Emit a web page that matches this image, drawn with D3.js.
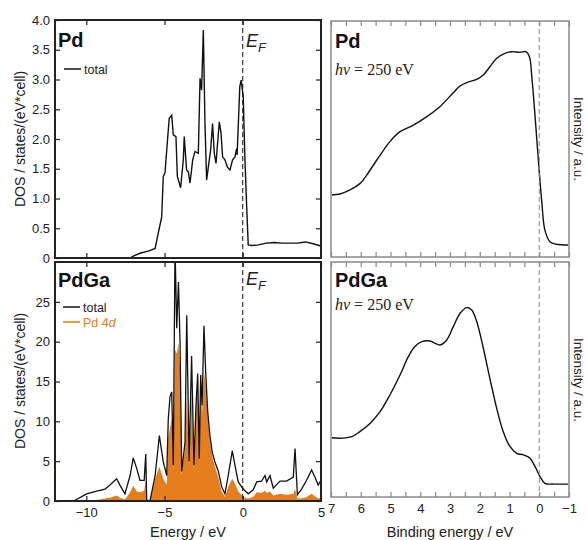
<!DOCTYPE html>
<html>
<head>
<meta charset="utf-8">
<script src="https://cdn.jsdelivr.net/npm/d3@7"></script>
<style>
  body { margin: 0; background: #fff; }
  svg { display: block; font-family: "Liberation Sans", Arial, sans-serif; }
</style>
</head>
<body>
<div id="chart"></div>
<script>
// ---- Pd DOS (top left) ----
const PD_E   = [-7.2, -7.0, -6.57, -6.0, -5.6, -5.4, -5.18, -5.08, -4.97, -4.86, -4.7, -4.54, -4.44, -4.27, -4.18, -3.97, -3.8, -3.74, -3.59, -3.48, -3.37, -3.2, -3.05, -2.84, -2.73, -2.63, -2.52, -2.42, -2.31, -2.14, -2.05, -1.93, -1.82, -1.71, -1.5, -1.39, -1.29, -1.14, -0.99, -0.82, -0.65, -0.5, -0.39, -0.36, -0.19, -0.1, 0.03, 0.14, 0.25, 0.35, 0.6, 1.0, 1.5, 2.0, 2.5, 3.0, 3.5, 4.0, 4.5, 5.0];
const PD_DOS = [0, 0.03, 0.08, 0.12, 0.16, 0.42, 0.69, 1.37, 1.43, 1.81, 2.35, 2.40, 2.07, 2.04, 1.37, 1.18, 1.65, 2.04, 1.48, 1.45, 1.26, 1.65, 1.79, 1.76, 3.02, 2.82, 3.83, 2.32, 1.31, 1.65, 1.82, 2.26, 1.76, 1.59, 2.29, 2.1, 1.7, 1.65, 1.53, 1.48, 1.65, 1.7, 1.84, 1.73, 2.88, 2.99, 2.71, 1.65, 0.86, 0.22, 0.21, 0.22, 0.25, 0.26, 0.25, 0.25, 0.25, 0.27, 0.24, 0.2];

// ---- PdGa DOS (bottom left) ----
const PDGA_E     = [-10.72, -9.98, -9.4, -8.8, -8.49, -8.06, -7.85, -7.53, -7.2, -7.0, -6.78, -6.57, -6.3, -6.2, -6.14, -5.93, -5.6, -5.33, -5.08, -4.86, -4.76, -4.65, -4.54, -4.44, -4.33, -4.22, -4.11, -4.01, -3.9, -3.69, -3.58, -3.43, -3.27, -3.12, -2.99, -2.88, -2.78, -2.69, -2.6, -2.48, -2.37, -2.24, -2.1, -1.95, -1.78, -1.57, -1.35, -1.14, -0.93, -0.67, -0.5, -0.29, 0.03, 0.35, 0.67, 0.89, 1.2, 1.42, 1.53, 1.74, 1.95, 2.38, 2.8, 3.23, 3.34, 3.49, 3.76, 4.08, 4.4, 4.61, 4.82, 5.0];
const PDGA_TOTAL = [0.1, 0.9, 1.2, 1.5, 2.0, 2.8, 2.0, 0.9, 3.2, 5.4, 4.1, 2.6, 2.6, 5.9, 0.1, 0, 3.2, 8.2, 4.9, 3.2, 10.3, 13.1, 13.7, 4.5, 32, 21.7, 27.5, 20, 3.7, 7.4, 23.3, 5.0, 18.2, 4.5, 12, 16, 5.3, 15.8, 12, 22, 16.2, 11.2, 8.2, 6.1, 4.9, 3.8, 1.8, 0.9, 3.2, 6.3, 4.5, 2.4, 1.5, 0.9, 1.4, 2.4, 2.5, 3.2, 2.4, 3.2, 1.6, 2.5, 2.5, 3.0, 6.6, 0.8, 1.5, 2.6, 3.9, 3.0, 2.0, 2.6];
const PDGA_PD4D  = [0, 0.05, 0.1, 0.3, 0.4, 0.7, 0.4, 0.2, 1.1, 1.9, 1.2, 1.1, 1.3, 2.6, 0, 0, 2.8, 4.3, 2.8, 2.0, 8, 9.1, 10.3, 3.8, 19, 18.5, 19.8, 16.5, 3.3, 6.5, 13, 4.5, 13.5, 4, 11, 14.5, 4.8, 14.5, 11, 16.2, 14.5, 10.5, 7.5, 5.6, 4.3, 3.0, 1.2, 0.5, 1.8, 2.8, 2.2, 1.2, 0.5, 0.3, 0.5, 1.1, 1.0, 1.3, 1.0, 1.2, 0.7, 0.9, 0.8, 0.9, 1.5, 0.3, 0.3, 0.5, 0.9, 0.6, 0.3, 0.4];

// ---- valence band spectra, hv = 250 eV (right) ----
const PD_BE  = [6.98, 6.7, 6.36, 6.02, 5.8, 5.46, 5.02, 4.68, 4.23, 3.78, 3.34, 2.89, 2.66, 2.44, 2.1, 1.88, 1.66, 1.43, 1.21, 0.93, 0.65, 0.45, 0.33, 0.25, 0.14, 0.03, -0.08, -0.19, -0.36, -0.58, -0.97];
const PD_INT = [0.263, 0.267, 0.284, 0.312, 0.347, 0.411, 0.489, 0.531, 0.559, 0.595, 0.637, 0.696, 0.725, 0.739, 0.753, 0.771, 0.806, 0.842, 0.86, 0.87, 0.867, 0.87, 0.849, 0.764, 0.595, 0.411, 0.242, 0.114, 0.065, 0.054, 0.051];
const PDGA_BE  = [6.98, 6.7, 6.3, 6.03, 5.69, 5.35, 5.02, 4.68, 4.4, 4.18, 3.95, 3.67, 3.5, 3.34, 3.11, 2.89, 2.66, 2.44, 2.27, 2.1, 1.88, 1.66, 1.43, 1.21, 0.98, 0.76, 0.53, 0.31, 0.14, -0.03, -0.19, -0.47, -0.97];
const PDGA_INT = [0.252, 0.25, 0.257, 0.278, 0.313, 0.363, 0.434, 0.519, 0.597, 0.64, 0.661, 0.664, 0.654, 0.647, 0.668, 0.725, 0.782, 0.806, 0.796, 0.746, 0.633, 0.505, 0.377, 0.278, 0.214, 0.186, 0.179, 0.165, 0.129, 0.086, 0.058, 0.055, 0.055];

const DOS_XTICKS = [-10, -5, 0, 5];
const PD_YTICKS = [0, 0.5, 1, 1.5, 2, 2.5, 3, 3.5, 4];
const PDGA_YTICKS = [0, 5, 10, 15, 20, 25];
const BE_MINOR = d3.range(-1, 7.01, 0.5);

const ORANGE = "#e67e1e";

const svg = d3.select("#chart").append("svg")
    .attr("width", 587)
    .attr("height", 540);

const dosX = d3.scaleLinear().domain([-12, 5]).range([55, 321]);
const yPd = d3.scaleLinear().domain([0, 4]).range([258, 20]);
const yPdGa = d3.scaleLinear().domain([0, 30]).range([501, 262]);
const beX = d3.scaleLinear().domain([7, -1]).range([331, 569]);
const yTopR = d3.scaleLinear().domain([0, 1]).range([257, 21]);
const yBotR = d3.scaleLinear().domain([0, 1]).range([497, 262]);

const zip = (a, b) => a.map((v, i) => [v, b[i]]);

const clip = (id, x, y) => {
  svg.append("clipPath").attr("id", id)
    .append("rect")
      .attr("x", x.range()[0]).attr("y", y.range()[1])
      .attr("width", x.range()[1] - x.range()[0])
      .attr("height", y.range()[0] - y.range()[1]);
};

const style_axis = (g, color) => {
  g.select(".domain").remove();
  g.selectAll("line").attr("stroke", color).attr("stroke-width", 1.2);
  g.selectAll("text")
      .attr("font-family", "Liberation Sans, Arial, sans-serif")
      .attr("font-size", 13)
      .attr("fill", "#222");
};

// ticks on all four sides, pointing in
const draw_ticks = (x, y, xt, yt, color, xfmt, yfmt) => {
  const [x0, x1] = x.range();
  const [y0, y1] = y.range();
  svg.append("g").attr("transform", "translate(0," + y0 + ")")
      .call(d3.axisBottom(x).tickValues(xt).tickSize(-5).tickPadding(7).tickFormat(xfmt))
      .call(g => style_axis(g, color));
  svg.append("g").attr("transform", "translate(0," + y1 + ")")
      .call(d3.axisTop(x).tickValues(xt).tickSize(-5).tickFormat(""))
      .call(g => style_axis(g, color));
  if (yt) {
    svg.append("g").attr("transform", "translate(" + x0 + ",0)")
        .call(d3.axisLeft(y).tickValues(yt).tickSize(-5).tickPadding(5).tickFormat(yfmt))
        .call(g => style_axis(g, color));
    svg.append("g").attr("transform", "translate(" + x1 + ",0)")
        .call(d3.axisRight(y).tickValues(yt).tickSize(-5).tickFormat(""))
        .call(g => style_axis(g, color));
  }
};

const frame = (x, y, color, w) => {
  svg.append("rect")
      .attr("x", x.range()[0]).attr("y", y.range()[1])
      .attr("width", x.range()[1] - x.range()[0])
      .attr("height", y.range()[0] - y.range()[1])
      .attr("fill", "none").attr("stroke", color).attr("stroke-width", w);
};

const vdash = (x, y, xv, color) => {
  svg.append("line")
      .attr("x1", x(xv)).attr("x2", x(xv))
      .attr("y1", y.range()[1]).attr("y2", y.range()[0])
      .attr("stroke", color).attr("stroke-width", 1)
      .attr("stroke-dasharray", "5,3");
};

const line_of = (x, y, curve) => d3.line().curve(curve || d3.curveLinear)
    .x(d => x(d[0])).y(d => y(d[1]));

const label = (txt, x, y, size) => {
  svg.append("text").attr("x", x).attr("y", y)
      .attr("font-size", size).attr("font-weight", "bold")
      .attr("fill", "#111").text(txt);
};

const ef = (x, y) => {
  const t = svg.append("text").attr("x", x).attr("y", y)
      .attr("font-size", 18).attr("font-style", "italic").attr("fill", "#222");
  t.append("tspan").text("E");
  t.append("tspan").attr("font-size", 13).attr("dy", 5).text("F");
};

const legend_item = (x, y, color, parts) => {
  svg.append("line").attr("x1", x).attr("x2", x + 17).attr("y1", y).attr("y2", y)
      .attr("stroke", color).attr("stroke-width", 1.6);
  const t = svg.append("text").attr("x", x + 20).attr("y", y + 4.5)
      .attr("font-size", 12.5).attr("fill", color);
  parts.forEach(p => t.append("tspan").attr("font-style", p[1] ? "italic" : null).text(p[0]));
};

const hv = (x, y) => {
  const t = svg.append("text").attr("x", x).attr("y", y)
      .attr("font-family", "Liberation Serif, Times New Roman, serif")
      .attr("font-size", 16).attr("fill", "#222");
  t.append("tspan").attr("font-style", "italic").text("hν");
  t.append("tspan").text(" = 250 eV");
};

const ylabel = (txt, x, y, rot, size) => {
  svg.append("text")
      .attr("transform", "translate(" + x + "," + y + ") rotate(" + rot + ")")
      .attr("text-anchor", "middle").attr("font-size", size || 14).attr("fill", "#222")
      .text(txt);
};

const yfmt1 = d => d === 0 ? "0" : d3.format(".1f")(d);

// ---- top left: Pd DOS ----
clip("c1", dosX, yPd);
svg.append("path")
    .attr("d", line_of(dosX, yPd)(zip(PD_E, PD_DOS)))
    .attr("clip-path", "url(#c1)")
    .attr("fill", "none").attr("stroke", "#111").attr("stroke-width", 1.4);
vdash(dosX, yPd, 0, "#111");
draw_ticks(dosX, yPd, [-10, -5, 0], PD_YTICKS, "#222", "", yfmt1);
frame(dosX, yPd, "#222", 2);
label("Pd", 58, 47, 20);
ef(246, 47);
legend_item(64, 69, "#222", [["total", false]]);
ylabel("DOS / states/(eV*cell)", 25, 139, -90);

// ---- bottom left: PdGa DOS ----
clip("c2", dosX, yPdGa);
svg.append("path")
    .attr("d", d3.area().x(d => dosX(d[0])).y0(yPdGa(0)).y1(d => yPdGa(d[1]))(zip(PDGA_E, PDGA_PD4D)))
    .attr("clip-path", "url(#c2)")
    .attr("fill", ORANGE);
svg.append("path")
    .attr("d", line_of(dosX, yPdGa)(zip(PDGA_E, PDGA_TOTAL)))
    .attr("clip-path", "url(#c2)")
    .attr("fill", "none").attr("stroke", "#111").attr("stroke-width", 1.3);
vdash(dosX, yPdGa, 0, "#111");
draw_ticks(dosX, yPdGa, DOS_XTICKS, PDGA_YTICKS, "#222", d3.format("d"), d3.format("d"));
frame(dosX, yPdGa, "#222", 2);
label("PdGa", 58, 287, 20);
ef(246, 285);
legend_item(63, 307, "#222", [["total", false]]);
legend_item(63, 322, ORANGE, [["Pd 4", false], ["d", true]]);
ylabel("DOS / states/(eV*cell)", 25, 381, -90);
svg.append("text").attr("x", 188).attr("y", 537).attr("text-anchor", "middle")
    .attr("font-size", 14.5).attr("fill", "#222").text("Energy / eV");

// ---- right: valence band spectra ----
const GRAY = "#8a8a8a";
clip("c3", beX, yTopR);
svg.append("path")
    .attr("d", line_of(beX, yTopR, d3.curveCatmullRom)(zip(PD_BE, PD_INT)))
    .attr("clip-path", "url(#c3)")
    .attr("fill", "none").attr("stroke", "#111").attr("stroke-width", 1.4);
vdash(beX, yTopR, 0, GRAY);
draw_ticks(beX, yTopR, BE_MINOR, null, GRAY, "", null);
frame(beX, yTopR, GRAY, 1.5);
label("Pd", 335, 48, 20);
hv(335, 75);

clip("c4", beX, yBotR);
svg.append("path")
    .attr("d", line_of(beX, yBotR, d3.curveCatmullRom)(zip(PDGA_BE, PDGA_INT)))
    .attr("clip-path", "url(#c4)")
    .attr("fill", "none").attr("stroke", "#111").attr("stroke-width", 1.4);
vdash(beX, yBotR, 0, GRAY);
draw_ticks(beX, yBotR, BE_MINOR, null, GRAY, d => Number.isInteger(d) ? d3.format("d")(d) : "", null);
frame(beX, yBotR, GRAY, 1.5);
label("PdGa", 335, 287, 20);
hv(335, 310);
svg.append("text").attr("x", 450).attr("y", 537).attr("text-anchor", "middle")
    .attr("font-size", 14.5).attr("fill", "#222").text("Binding energy / eV");

ylabel("Intensity / a.u.", 574, 139, 90, 13.5);
ylabel("Intensity / a.u.", 574, 380, 90, 13.5);
</script>
</body>
</html>
